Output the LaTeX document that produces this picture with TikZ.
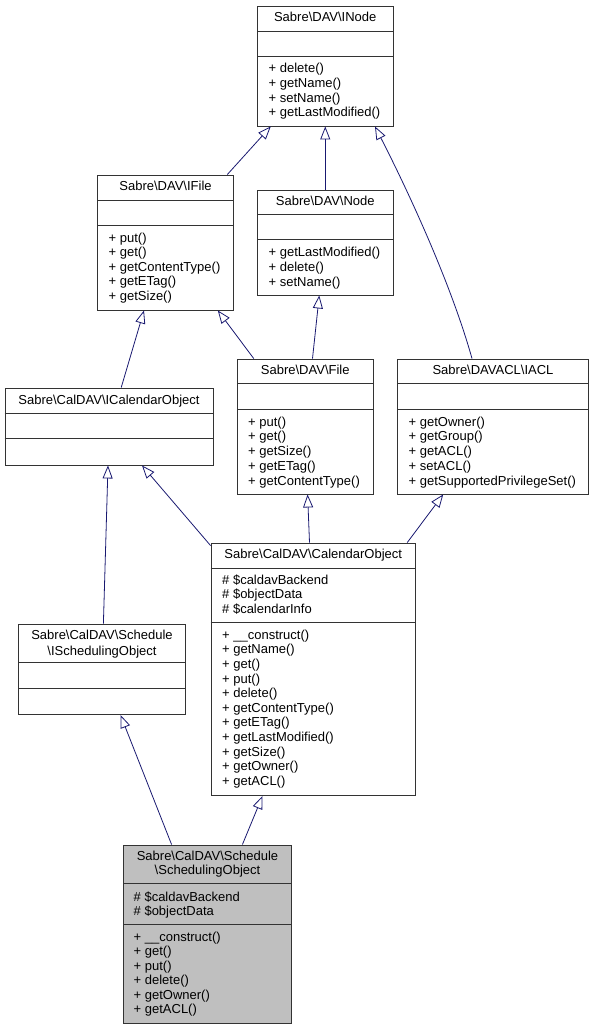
\documentclass[tikz,border=0pt]{standalone}
\usepackage{fontspec}
\setmainfont{Liberation Sans}
\usepackage{tikz}
\usetikzlibrary{arrows.meta}
\usetikzlibrary{calc}
\definecolor{edgeblue}{HTML}{191970}
\definecolor{boxgray}{HTML}{BFBFBF}
\tikzset{
  % class boxes and their compartments
  classbox/.style={draw=black!80, line width=0.9pt, rectangle, inner sep=0pt, fill=white},
  sepline/.style={draw=black!80, line width=0.9pt},
  title/.style={anchor=base, inner sep=0pt, font=\fontsize{13}{14.7}\selectfont},
  member/.style={anchor=base west, inner sep=0pt, font=\fontsize{13}{14.7}\selectfont},
  % generalisation arrows
  inherit/.style={draw=edgeblue, line width=0.8pt, -{Triangle[open, length=13pt, width=10pt]}}
}
\newcommand{\bs}{\textbackslash}

\begin{document}
\begin{tikzpicture}[x=1pt, y=-1pt]
    \useasboundingbox (0,0) rectangle (590,1029);

    % Place boxes
    \node [classbox, minimum width=135.5pt, minimum height=120pt] (inode) at (325.25,66) {};
    \node [classbox, minimum width=136pt, minimum height=135pt] (ifile) at (165.5,242.5) {};
    \node [classbox, minimum width=135.5pt, minimum height=105pt] (node) at (325.25,242.5) {};
    \node [classbox, minimum width=135.5pt, minimum height=135pt] (file) at (305.25,426.5) {};
    \node [classbox, minimum width=191pt, minimum height=135pt] (iacl) at (493,426.5) {};
    \node [classbox, minimum width=208pt, minimum height=77pt] (icalobj) at (109,426.5) {};
    \node [classbox, minimum width=204.5pt, minimum height=252.5pt] (calobj) at (313.25,669.25) {};
    \node [classbox, minimum width=167pt, minimum height=90.5pt] (ischedobj) at (102,669.25) {};
    \node [classbox, fill=boxgray, minimum width=168pt, minimum height=178pt] (schedobj) at (207.5,934) {};

    % Compartment lines
    \foreach \b/\s/\t in {inode/25.7/51, ifile/25.7/51, node/25.3/50.3, file/25.3/51,
                          iacl/25.3/51, icalobj/26/51, calobj/25.7/80.3,
                          ischedobj/39.3/65.3, schedobj/39.3/79.7} {
        \draw [sepline] ([yshift=-\s pt]\b.north west) -- ([yshift=-\s pt]\b.north east);
        \draw [sepline] ([yshift=-\t pt]\b.north west) -- ([yshift=-\t pt]\b.north east);
    }

    % Class names
    \node [title] (inodename) at (325.25,21.8) {Sabre\bs DAV\bs INode};
    \node [title] (ifilename) at (165.5,190.8) {Sabre\bs DAV\bs IFile};
    \node [title] (nodename) at (325.25,205.8) {Sabre\bs DAV\bs Node};
    \node [title] (filename) at (305.25,374.8) {Sabre\bs DAV\bs File};
    \node [title] (iaclname) at (493,374.8) {Sabre\bs DAVACL\bs IACL};
    \node [title] (icalobjname) at (109,404.8) {Sabre\bs CalDAV\bs ICalendarObject};
    \node [title] (calobjname) at (313.25,558.8) {Sabre\bs CalDAV\bs CalendarObject};
    \node [title] (ischedobjname) at (102,639.5) {Sabre\bs CalDAV\bs Schedule};
    \node [title] (ischedobjname2) at (102,655) {\bs ISchedulingObject};
    \node [title] (schedobjname) at (207.5,860.5) {Sabre\bs CalDAV\bs Schedule};
    \node [title] (schedobjname2) at (207.5,874.8) {\bs SchedulingObject};

    % Members
    \foreach \m [count=\i from 0] in {+ delete(), + getName(), + setName(), + getLastModified()}
        \node [member] at (268.5,72.6+14.75*\i) {\m};
    \foreach \m [count=\i from 0] in {+ put(), + get(), + getContentType(), + getETag(), + getSize()}
        \node [member] at (108.5,242+14.6*\i) {\m};
    \foreach \m [count=\i from 0] in {+ getLastModified(), + delete(), + setName()}
        \node [member] at (268.5,256.6+14.7*\i) {\m};
    \foreach \m [count=\i from 0] in {+ put(), + get(), + getSize(), + getETag(), + getContentType()}
        \node [member] at (248,426+14.75*\i) {\m};
    \foreach \m [count=\i from 0] in {+ getOwner(), + getGroup(), + getACL(), + setACL(), + getSupportedPrivilegeSet()}
        \node [member] at (408.5,426+14.75*\i) {\m};
    \foreach \m [count=\i from 0] in {\# \$caldavBackend, \# \$objectData, \# \$calendarInfo}
        \node [member] at (222,584.3+14.65*\i) {\m};
    \foreach \m [count=\i from 0] in {+ \_\_construct(), + getName(), + get(), + put(), + delete(),
                                      + getContentType(), + getETag(), + getLastModified(),
                                      + getSize(), + getOwner(), + getACL()}
        \node [member] at (222,639.3+14.6*\i) {\m};
    \foreach \m [count=\i from 0] in {\# \$caldavBackend, \# \$objectData}
        \node [member] at (133.5,901+14.3*\i) {\m};
    \foreach \m [count=\i from 0] in {+ \_\_construct(), + get(), + put(), + delete(), + getOwner(), + getACL()}
        \node [member] at (133.5,941+14.5*\i) {\m};

    % Draw edges
    \draw [inherit] ([xshift=61.8pt]ifile.north) -- ([xshift=-54.5pt]inode.south);
    \draw [inherit] (node.north) -- (inode.south);
    \draw [inherit] ([xshift=-21pt]iacl.north) .. controls (450,280) and (405,185) .. ([xshift=49.75pt]inode.south);
    \draw [inherit] ([xshift=12.2pt]icalobj.north) -- ([xshift=-21.5pt]ifile.south);
    \draw [inherit] ([xshift=-51.5pt]file.north) -- ([xshift=52.3pt]ifile.south);
    \draw [inherit] ([xshift=7.25pt]file.north) -- ([xshift=-6pt]node.south);
    \draw [inherit] ([yshift=-3pt]calobj.north west) -- ([xshift=33pt]icalobj.south);
    \draw [inherit] ([xshift=-3.75pt]calobj.north) -- ([xshift=2.35pt]file.south);
    \draw [inherit] ([xshift=94pt]calobj.north) -- ([xshift=-49.8pt]iacl.south);
    \draw [inherit] ([xshift=1.4pt]ischedobj.north) -- ([xshift=-1pt]icalobj.south);
    \draw [inherit] ([xshift=-35.9pt]schedobj.north) -- ([xshift=18.5pt]ischedobj.south);
    \draw [inherit] ([xshift=34.9pt]schedobj.north) -- ([xshift=-50.75pt]calobj.south);
\end{tikzpicture}
\end{document}
